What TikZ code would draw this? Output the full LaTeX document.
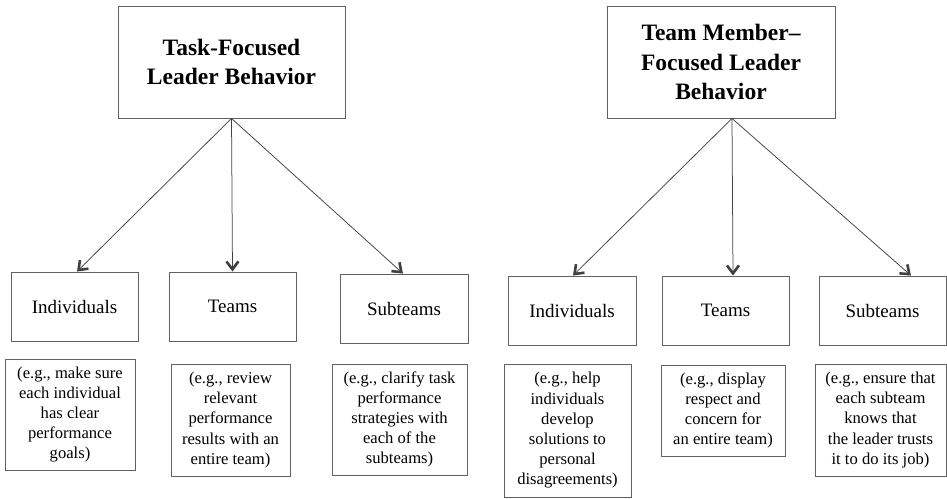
\documentclass[tikz,border=0pt]{standalone}
\usepackage{fontspec}
\setmainfont{Liberation Serif}
\usetikzlibrary{arrows.meta}

\tikzset{
  box/.style={draw=black!62, line width=0.9pt, inner sep=0pt, align=center,
              text=black},
  headbox/.style={box, font=\fontsize{23.5}{29.5}\selectfont\bfseries},
  labelbox/.style={box, font=\fontsize{19}{22}\selectfont},
  notebox/.style={box, font=\fontsize{16.6}{20.2}\selectfont},
  link/.style={draw=black!75, line width=0.75pt,
               -{Straight Barb[length=8pt,width=12pt,line width=2.6pt]}},
}

\newcommand{\boxat}[6]{% style, name, x, y, width, height, text
  \node[#1, minimum width=#5pt, minimum height=#6pt] (#2) at (#3,#4)}

\begin{document}
\begin{tikzpicture}[x=1pt,y=-1pt]
  \useasboundingbox (0,0) rectangle (947,498);

  % ---- task-focused branch ----
  \boxat{headbox}{topA}{231.5}{62}{227}{112} {Task-Focused\\Leader Behavior};
  \boxat{labelbox}{indA}{74.5}{306.5}{127}{69} {Individuals};
  \boxat{labelbox}{teamA}{232.5}{306.5}{127}{69} {Teams};
  \boxat{labelbox}{subA}{404}{308.5}{128}{69} {Subteams};
  \boxat{notebox}{indNoteA}{70}{414.5}{130}{111}
    {(e.g., make sure\\each individual\\has clear\\performance\\goals)};
  \boxat{notebox}{teamNoteA}{230.5}{420}{119}{112}
    {(e.g., review\\relevant\\performance\\results with an\\entire team)};
  \boxat{notebox}{subNoteA}{399.5}{419.5}{135}{111}
    {(e.g., clarify task\\performance\\strategies with\\each of the\\subteams)};

  % ---- team member-focused branch ----
  \boxat{headbox}{topB}{721}{62}{228}{112} {Team Member–\\Focused Leader\\Behavior};
  \boxat{labelbox}{indB}{572}{310.5}{128}{69} {Individuals};
  \boxat{labelbox}{teamB}{725.5}{310.5}{127}{69} {Teams};
  \boxat{labelbox}{subB}{882.5}{310.5}{127}{69} {Subteams};
  \boxat{notebox}{indNoteB}{567.5}{430.5}{127}{133}
    {(e.g., help\\individuals\\develop\\solutions to\\personal\\disagreements)};
  \boxat{notebox}{teamNoteB}{723}{410.5}{124}{91}
    {(e.g., display\\respect and\\concern for\\an entire team)};
  \boxat{notebox}{subNoteB}{880.5}{420}{131}{112}
    {(e.g., ensure that\\each subteam\\knows that\\the leader trusts\\it to do its job)};

  % ---- connectors ----
  \coordinate (apexA) at (topA.south);
  \coordinate (apexB) at ([xshift=11pt]topB.south);
  \draw[link] (apexA) -- ([xshift=2.5pt]indA.north);
  \draw[link] (apexA) -- (teamA.north);
  \draw[link] (apexA) -- ([xshift=-1pt]subA.north);
  \draw[link] (apexB) -- ([xshift=1pt]indB.north);
  \draw[link] (apexB) -- ([xshift=7.5pt]teamB.north);
  \draw[link] (apexB) -- ([xshift=28.5pt]subB.north);
\end{tikzpicture}
\end{document}
